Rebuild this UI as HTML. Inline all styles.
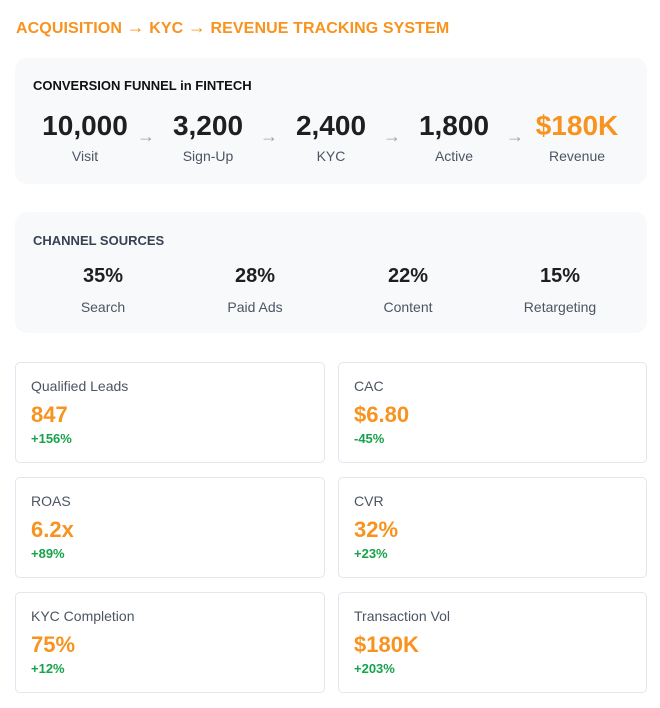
<!DOCTYPE html>
<html><head><meta charset="utf-8"><style>
*{margin:0;padding:0;box-sizing:border-box}
body{width:660px;height:708px;background:#fff;font-family:"Liberation Sans",sans-serif;position:relative;overflow:hidden}
.abs{position:absolute}
.title{left:16px;top:17px;font-size:16px;font-weight:bold;color:#f7931e;letter-spacing:0.1px;white-space:nowrap}
.box{background:#f8f9fb;border-radius:12px;left:15px;width:632px}
.fi{position:absolute;width:120px;margin-left:-60px;text-align:center}
.fn{font-size:28px;font-weight:bold;color:#1f1f1f;line-height:32px}
.fl{font-size:14px;color:#4b5563;margin-top:6px}
.arr{position:absolute;color:#9ca3af;font-size:18px;top:126px}
.ci{position:absolute;width:140px;margin-left:-70px;text-align:center}
.cn{font-size:20px;font-weight:bold;color:#1f1f1f}
.cl{font-size:14px;color:#4b5563;margin-top:11px}
.card{position:absolute;width:309px;height:101px;border:1px solid #e2e6ee;border-radius:5px;background:#fff;padding:15px 0 0 15px}
.card .l{font-size:14px;color:#4b5563}
.card .v{font-size:22px;font-weight:bold;color:#f7931e;margin-top:8px}
.card .c{font-size:13px;font-weight:bold;color:#16a34a;margin-top:3px}
</style></head><body>
<div class="abs title">ACQUISITION <span style="font-size:18px">→</span> KYC <span style="font-size:18px">→</span> REVENUE TRACKING SYSTEM</div>
<div class="abs box" style="top:58px;height:126px">
<div class="abs" style="left:18px;top:20px;font-size:13px;font-weight:bold;color:#111">CONVERSION FUNNEL in FINTECH</div>
</div>
<div class="fi" style="left:85px;top:110px"><div class="fn">10,000</div><div class="fl">Visit</div></div>
<div class="arr" style="left:137px">→</div>
<div class="fi" style="left:208px;top:110px"><div class="fn">3,200</div><div class="fl">Sign-Up</div></div>
<div class="arr" style="left:260px">→</div>
<div class="fi" style="left:331px;top:110px"><div class="fn">2,400</div><div class="fl">KYC</div></div>
<div class="arr" style="left:383px">→</div>
<div class="fi" style="left:454px;top:110px"><div class="fn">1,800</div><div class="fl">Active</div></div>
<div class="arr" style="left:506px">→</div>
<div class="fi" style="left:577px;top:110px"><div class="fn" style="color:#f7931e">$180K</div><div class="fl">Revenue</div></div>

<div class="abs box" style="top:212px;height:121px">
<div class="abs" style="left:18px;top:21px;font-size:13px;font-weight:bold;color:#374151">CHANNEL SOURCES</div>
</div>
<div class="ci" style="left:103px;top:265px"><div class="cn">35%</div><div class="cl">Search</div></div>
<div class="ci" style="left:255px;top:265px"><div class="cn">28%</div><div class="cl">Paid Ads</div></div>
<div class="ci" style="left:408px;top:265px"><div class="cn">22%</div><div class="cl">Content</div></div>
<div class="ci" style="left:560px;top:265px"><div class="cn">15%</div><div class="cl">Retargeting</div></div>

<div class="card" style="left:15px;top:362px;width:310px"><div class="l">Qualified Leads</div><div class="v">847</div><div class="c">+156%</div></div>
<div class="card" style="left:338px;top:362px"><div class="l">CAC</div><div class="v">$6.80</div><div class="c">-45%</div></div>
<div class="card" style="left:15px;top:477px;width:310px"><div class="l">ROAS</div><div class="v">6.2x</div><div class="c">+89%</div></div>
<div class="card" style="left:338px;top:477px"><div class="l">CVR</div><div class="v">32%</div><div class="c">+23%</div></div>
<div class="card" style="left:15px;top:592px;width:310px"><div class="l">KYC Completion</div><div class="v">75%</div><div class="c">+12%</div></div>
<div class="card" style="left:338px;top:592px"><div class="l">Transaction Vol</div><div class="v">$180K</div><div class="c">+203%</div></div>
</body></html>
